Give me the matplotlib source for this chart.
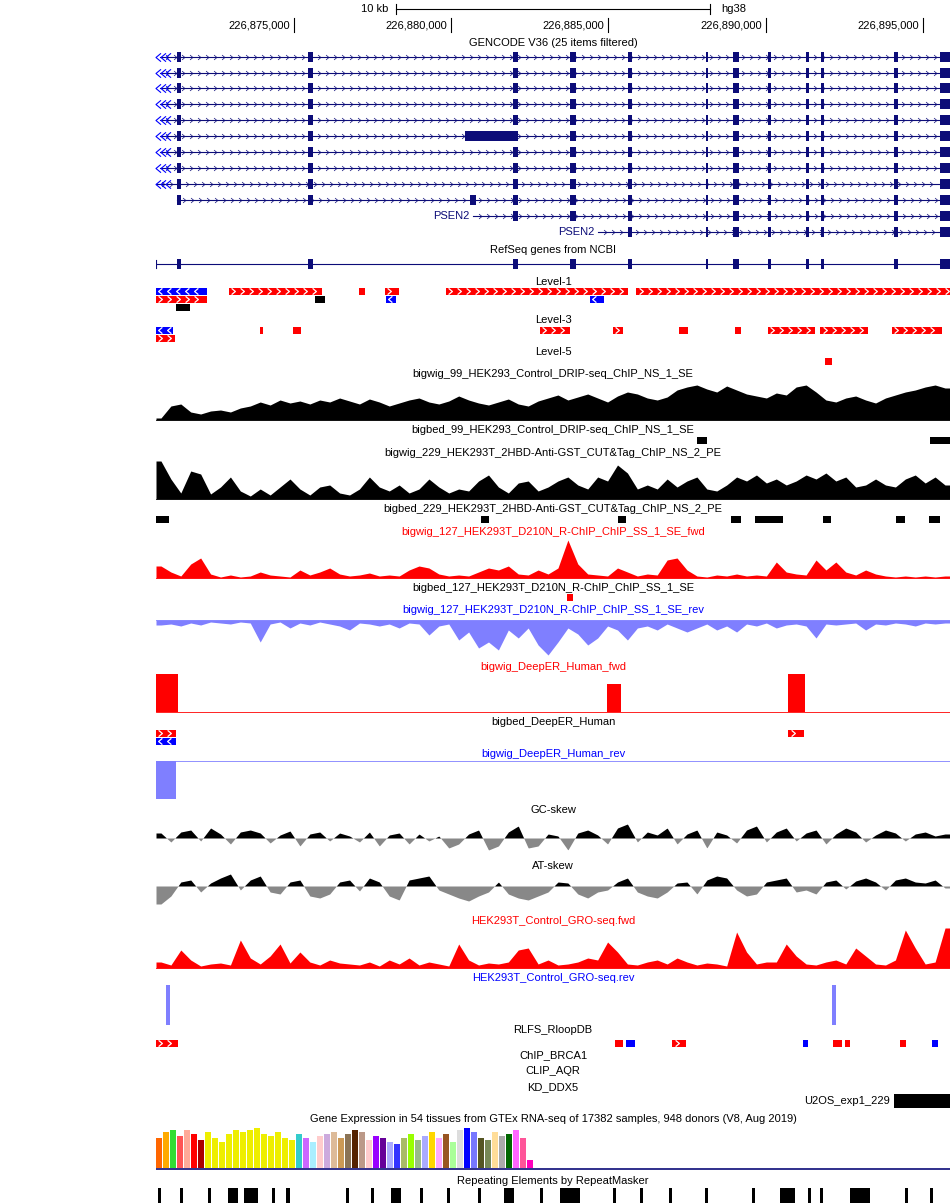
import numpy as np
import matplotlib
matplotlib.use("Agg")
import matplotlib.pyplot as plt
from matplotlib.path import Path

plt.rcParams['font.family'] = ['Liberation Sans', 'DejaVu Sans']

# window, kb offsets from START
START = 226_870_612
END_KB = 25.25
ticks_bp = [226875000, 226880000, 226885000, 226890000, 226895000]

NAVY = '#0c0c78'
RED = '#ff0000'
BLUE = '#0000ff'
LBLUE = '#7f7fff'

# gene model exons (kb start, kb width)
exons = [(0.67, 0.13), (4.83, 0.16), (11.35, 0.16), (13.17, 0.2), (15.01, 0.13),
         (17.49, 0.08), (18.35, 0.2), (19.46, 0.1), (20.67, 0.1), (21.15, 0.1),
         (23.47, 0.13), (24.93, 0.32)]
# transcript rows: (y, start kb, label)
tx_rows = [(57, 0.13, None), (73, 0.13, None), (88, 0.13, None), (104, 0.13, None),
           (120, 0.13, None), (136, 0.13, None), (152, 0.13, None), (168, 0.13, None),
           (184, 0.0, None), (200, 0.67, None), (216, 10.08, 'PSEN2'), (232, 14.06, 'PSEN2')]

level1 = [(291, 0.0, 1.62, BLUE, -1), (291, 2.32, 5.28, RED, 1), (291, 6.46, 6.65, RED, 0),
          (291, 7.28, 7.73, RED, 1), (291, 9.22, 15.01, RED, 1), (291, 15.27, 25.25, RED, 1),
          (299, 0.0, 1.62, RED, 1), (299, 5.06, 5.37, 'black', 0), (299, 7.31, 7.63, BLUE, -1),
          (299, 13.80, 14.25, BLUE, -1), (307, 0.64, 1.08, 'black', 0)]
level3 = [(330, 0.0, 0.54, BLUE, -1), (330, 3.31, 3.40, RED, 0), (330, 4.36, 4.61, RED, 1),
          (330, 12.21, 13.17, RED, 1), (330, 14.53, 14.85, RED, 1), (330, 16.63, 16.92, RED, 1),
          (330, 18.41, 18.60, RED, 1), (330, 19.46, 20.96, RED, 1), (330, 21.12, 22.64, RED, 1),
          (330, 23.40, 24.99, RED, 1), (338, 0.0, 0.60, RED, 1)]
level5 = [(361, 21.27, 21.50, RED, 0)]
bigbed99 = [(440, 17.20, 17.52, 'black', 0), (440, 24.61, 25.25, 'black', 0)]
bigbed229 = [(519, 0.0, 0.41, 'black', 0), (519, 10.34, 10.59, 'black', 0),
             (519, 14.69, 14.95, 'black', 0), (519, 18.29, 18.60, 'black', 0),
             (519, 19.05, 19.94, 'black', 0), (519, 21.21, 21.47, 'black', 0),
             (519, 23.53, 23.82, 'black', 0), (519, 24.58, 24.93, 'black', 0)]
bigbed127 = [(597, 13.07, 13.26, RED, 0)]
bigbedDeepER = [(733, 0.0, 0.64, RED, 1), (733, 20.10, 20.61, RED, 1), (741, 0.0, 0.64, BLUE, -1)]
rlfs = [(1043, 0.0, 0.70, RED, 1), (1043, 14.60, 14.85, RED, 0), (1043, 14.95, 15.23, BLUE, -1),
        (1043, 16.41, 16.85, RED, 1), (1043, 20.57, 20.73, BLUE, -1), (1043, 21.53, 21.82, RED, 1),
        (1043, 21.91, 22.07, RED, 0), (1043, 23.66, 23.85, RED, 0), (1043, 24.68, 24.87, BLUE, -1)]
u2os = [(1101, 23.47, 25.25, 'black', 0)]

# signal tracks, 80 bins across the window (pixel heights)
sig99 = [2, 14, 16, 8, 6, 9, 10, 8, 12, 14, 18, 15, 20, 17, 19, 16, 20, 18, 22, 19, 16, 21, 18, 14, 17, 20,
         22, 18, 16, 19, 24, 20, 17, 15, 18, 21, 16, 14, 19, 22, 25, 20, 23, 26, 22, 18, 24, 28, 26, 22, 20,
         23, 30, 33, 35, 31, 28, 34, 30, 26, 24, 22, 27, 25, 33, 35, 28, 20, 18, 22, 24, 20, 17, 22, 25, 28,
         30, 33, 35, 32]
sig229 = [38, 20, 6, 28, 25, 5, 12, 22, 8, 3, 10, 4, 12, 20, 10, 4, 12, 14, 6, 4, 10, 22, 12, 8, 14, 6,
          10, 20, 12, 6, 10, 8, 18, 24, 12, 6, 16, 18, 8, 12, 18, 22, 14, 10, 22, 18, 34, 26, 10, 14, 10, 20,
          12, 18, 22, 10, 8, 14, 22, 18, 24, 16, 20, 14, 18, 24, 20, 26, 18, 22, 12, 14, 20, 14, 12, 20, 24,
          16, 22, 14]
sig127f = [12, 6, 2, 14, 20, 4, 1, 3, 1, 2, 6, 3, 2, 1, 8, 3, 6, 10, 4, 2, 3, 5, 2, 3, 2, 8, 12, 10, 4, 2,
           3, 2, 6, 10, 8, 12, 4, 3, 8, 4, 10, 38, 14, 4, 3, 2, 10, 6, 2, 4, 3, 18, 20, 8, 2, 1, 3, 2, 4, 2,
           3, 2, 16, 6, 4, 3, 18, 8, 16, 6, 3, 8, 4, 2, 1, 2, 1, 2, 1, 2]
sig127r = [5, 4, 6, 3, 5, 2, 3, 4, 2, 3, 22, 4, 2, 8, 3, 5, 2, 4, 6, 10, 3, 4, 6, 4, 8, 3, 4, 15, 6, 4, 20,
           12, 28, 22, 30, 10, 18, 8, 25, 35, 22, 8, 14, 25, 18, 6, 10, 20, 8, 6, 10, 4, 8, 12, 8, 4, 10, 6,
           12, 4, 6, 3, 8, 5, 4, 6, 18, 4, 5, 4, 3, 10, 4, 5, 3, 4, 6, 3, 4, 3]
deeper_f = [(0.0, 0.70, 38), (14.34, 14.79, 28), (20.10, 20.64, 38)]
deeper_r = [(0.0, 0.64, 38)]
gc_skew = [5, -4, 6, 8, -3, 10, 4, -6, 6, 8, 5, -5, 3, 7, -8, 4, 6, -3, 5, 2, -4, 6, -8, 3, 5, -6, 4, -3, 2,
           -10, -6, 4, 8, -12, -8, 6, 12, -10, -8, 4, 2, -12, 5, 8, 3, -6, 10, 14, -4, 6, 3, 10, -6, 4, 8,
           -10, 6, 3, -5, 8, 12, -4, 6, 10, -3, 5, 8, -6, 4, 10, 6, -4, 3, 8, 5, -3, 4, 6, 2, 4]
at_skew = [-18, -10, 4, 6, -6, 3, 8, 12, -4, 6, 10, -6, -8, 4, 6, -10, -12, -8, 4, 6, -5, 8, 4, -10, -14,
           6, 8, 10, -4, -8, -12, -15, -10, -6, 4, -8, -12, -14, -10, -6, 4, 3, -8, -12, -6, -4, 4, 8, -6,
           -10, -12, -6, 3, 4, -8, 6, 10, 8, -4, -10, -8, 4, 6, 8, -6, -4, -8, 4, 6, -3, 5, 8, 4, -4, 6, 8,
           4, 3, 6, -2]
gro_f = [6, 3, 18, 8, 2, 4, 5, 3, 28, 10, 4, 12, 24, 5, 16, 6, 3, 8, 5, 4, 3, 6, 2, 8, 4, 10, 3, 6, 4, 2,
         24, 8, 3, 5, 4, 6, 18, 20, 4, 8, 3, 4, 6, 10, 8, 26, 16, 4, 3, 6, 8, 4, 10, 6, 3, 5, 4, 2, 36, 16,
         4, 6, 6, 24, 12, 4, 3, 6, 8, 4, 20, 12, 4, 3, 8, 38, 20, 4, 6, 40]
gro_r = [(0.38, 40), (21.56, 40)]

gtex_h = [30, 36, 38, 32, 38, 34, 28, 36, 30, 26, 34, 38, 36, 38, 40, 34, 32, 36, 30, 28, 34, 30, 26, 32,
          34, 36, 30, 34, 38, 36, 28, 32, 30, 26, 24, 30, 34, 28, 32, 36, 30, 34, 26, 38, 40, 36, 30, 28,
          36, 32, 34, 38, 30, 8]
gtex_c = ['#FF6600', '#FFAA00', '#33DD33', '#FF5555', '#FFAA99', '#FF0000', '#AA0000', '#EEEE00',
          '#EEEE00', '#EEEE00', '#EEEE00', '#EEEE00', '#EEEE00', '#EEEE00', '#EEEE00', '#EEEE00',
          '#EEEE00', '#EEEE00', '#EEEE00', '#EEEE00', '#33CCCC', '#CC66FF', '#AAEEFF', '#FFCCCC',
          '#CCAADD', '#DDBB99', '#CC9955', '#8B7355', '#552200', '#BB9988', '#FFCCCC', '#9900FF',
          '#660099', '#AAAAFF', '#3333FF', '#AABB66', '#99FF00', '#99BB88', '#AAAAFF', '#FFD700',
          '#FFAAFF', '#995522', '#AAFF99', '#DDDDDD', '#0000FF', '#7777FF', '#555522', '#778855',
          '#FFDD99', '#AAAAAA', '#006600', '#FF66FF', '#FF5599', '#FF00BB']

repeats = [(0.06, 0.1), (0.76, 0.1), (1.65, 0.1), (2.29, 0.32), (2.80, 0.45), (3.69, 0.1),
           (4.13, 0.12), (6.04, 0.1), (6.84, 0.1), (7.47, 0.32), (8.40, 0.1), (9.25, 0.1), (10.24, 0.1),
           (11.06, 0.32), (12.21, 0.1), (12.84, 0.64), (13.07, 0.41), (14.53, 0.1), (15.39, 0.1),
           (16.31, 0.1), (17.46, 0.1), (18.95, 0.1), (19.84, 0.48), (20.73, 0.1), (21.12, 0.1),
           (22.07, 0.64), (23.82, 0.1), (24.61, 0.1)]

tracks = [(43, 'GENCODE V36 (25 items filtered)', 'black'), (250, 'RefSeq genes from NCBI', 'black'),
          (282, 'Level-1', 'black'), (320, 'Level-3', 'black'), (352, 'Level-5', 'black'),
          (374, 'bigwig_99_HEK293_Control_DRIP-seq_ChIP_NS_1_SE', 'black'),
          (430, 'bigbed_99_HEK293_Control_DRIP-seq_ChIP_NS_1_SE', 'black'),
          (453, 'bigwig_229_HEK293T_2HBD-Anti-GST_CUT&Tag_ChIP_NS_2_PE', 'black'),
          (509, 'bigbed_229_HEK293T_2HBD-Anti-GST_CUT&Tag_ChIP_NS_2_PE', 'black'),
          (532, 'bigwig_127_HEK293T_D210N_R-ChIP_ChIP_SS_1_SE_fwd', RED),
          (588, 'bigbed_127_HEK293T_D210N_R-ChIP_ChIP_SS_1_SE', 'black'),
          (610, 'bigwig_127_HEK293T_D210N_R-ChIP_ChIP_SS_1_SE_rev', BLUE),
          (667, 'bigwig_DeepER_Human_fwd', RED), (722, 'bigbed_DeepER_Human', 'black'),
          (754, 'bigwig_DeepER_Human_rev', BLUE), (810, 'GC-skew', 'black'), (866, 'AT-skew', 'black'),
          (921, 'HEK293T_Control_GRO-seq.fwd', RED), (978, 'HEK293T_Control_GRO-seq.rev', BLUE),
          (1030, 'RLFS_RloopDB', 'black'), (1055, 'ChIP_BRCA1', 'black'), (1071, 'CLIP_AQR', 'black'),
          (1087, 'KD_DDX5', 'black'),
          (1119, 'Gene Expression in 54 tissues from GTEx RNA-seq of 17382 samples, 948 donors (V8, Aug 2019)', 'black'),
          (1181, 'Repeating Elements by RepeatMasker', 'black')]

KB_PX = 0.0318  # kb per pixel
CHEV_R = Path([(-0.6, 1), (0.6, 0), (-0.6, -1)], [Path.MOVETO, Path.LINETO, Path.LINETO])
CHEV_L = Path([(0.6, 1), (-0.6, 0), (0.6, -1)], [Path.MOVETO, Path.LINETO, Path.LINETO])

fig = plt.figure(figsize=(9.5, 12.03), dpi=100)
ax = fig.add_axes([156 / 950, 0, 794 / 950, 1])
ax.set_xlim(0, END_KB)
ax.set_ylim(1203, 0)
ax.axis('off')


def chevrons(x0, x1, y, d, color, step=8, size=5, lw=0.8):
    xs = np.arange(x0 + step * KB_PX / 2, x1 - step * KB_PX / 3, step * KB_PX)
    if len(xs) == 0:
        return
    ax.plot(xs, np.full(len(xs), y), ls='', marker=CHEV_R if d > 0 else CHEV_L,
            ms=size, mfc='none', mec=color, mew=lw, clip_on=False)


def blocks(items, h=7):
    for y, s, e, c, d in items:
        ax.add_patch(plt.Rectangle((s, y - h / 2), e - s, h, color=c, lw=0))
        if d != 0 and e - s > 0.3:
            chevrons(s, e, y, d, 'white', step=9, size=4.5, lw=0.9)


# ruler
ax.plot([7.63, 17.63], [9, 9], color='black', lw=0.8)
ax.plot([7.63, 7.63], [4, 14], color='black', lw=0.8)
ax.plot([17.63, 17.63], [4, 14], color='black', lw=0.8)
ax.text(7.4, 9, '10 kb', ha='right', va='center', fontsize=8)
ax.text(17.98, 9, 'hg38', ha='left', va='center', fontsize=8)
for t in ticks_bp:
    x = (t - START) / 1000
    ax.plot([x, x], [18, 32], color='black', lw=0.8)
    ax.text(x - 0.12, 25, f'{t:,}', ha='right', va='center', fontsize=8)

for y, name, c in tracks:
    ax.text(END_KB / 2, y, name, ha='center', va='center', fontsize=8, color=c)

# GENCODE transcripts
for y, s, label in tx_rows:
    ax.plot([s, 24.93], [y, y], color=NAVY, lw=0.8)
    chevrons(s + 0.1, 24.9, y, 1, NAVY, step=8, size=3.5, lw=0.5)
    for es, ew in exons:
        if es + ew > s + 0.05:
            ax.add_patch(plt.Rectangle((max(es, s), y - 5), ew, 10, color=NAVY, lw=0))
    if s < 0.2:
        chevrons(0.0, 0.55, y, -1, BLUE, step=5, size=6, lw=0.8)
    if label:
        ax.text(s - 0.1, y, label, ha='right', va='center', fontsize=8, color=NAVY)
ax.add_patch(plt.Rectangle((9.83, 136 - 5), 1.52, 10, color=NAVY, lw=0))
ax.add_patch(plt.Rectangle((9.99, 200 - 5), 0.2, 10, color=NAVY, lw=0))

# RefSeq
ax.plot([0.0, 25.25], [264, 264], color=NAVY, lw=0.8)
ax.plot([0.0, 0.0], [260, 268], color=NAVY, lw=0.8)
for es, ew in exons:
    ax.add_patch(plt.Rectangle((es, 259), ew, 10, color=NAVY, lw=0))

for group in (level1, level3, level5, bigbed99, bigbed229, bigbed127, bigbedDeepER, rlfs, u2os):
    blocks(group, h=14 if group is u2os else 7)

centers = (np.arange(80) + 0.5) * END_KB / 80
xs = np.concatenate([[0], centers, [END_KB]])


def ext(vals):
    v = np.array(vals, float)
    return np.concatenate([[v[0]], v, [v[-1]]])


def signal(vals, base, color, down=False):
    v = ext(vals)
    top = base + v if down else base - v
    ax.fill_between(xs, base, top, color=color, lw=0)
    ax.plot([0, END_KB], [base, base], color=color, lw=0.6)


def skew(vals, center):
    v = ext(vals)
    fine = np.linspace(0, END_KB, 1600)
    vf = np.interp(fine, xs, v)
    ax.fill_between(fine, center, center - np.maximum(vf, 0), color='black', lw=0)
    ax.fill_between(fine, center, center - np.minimum(vf, 0), color='#888888', lw=0)


signal(sig99, 420, 'black')
signal(sig229, 499, 'black')
signal(sig127f, 578, RED)
signal(sig127r, 620, LBLUE, down=True)
ax.plot([0, END_KB], [712, 712], color=RED, lw=0.6)
for s, e, h in deeper_f:
    ax.add_patch(plt.Rectangle((s, 712 - h), e - s, h, color=RED, lw=0))
ax.plot([0, END_KB], [761, 761], color=LBLUE, lw=0.6)
for s, e, h in deeper_r:
    ax.add_patch(plt.Rectangle((s, 761), e - s, h, color=LBLUE, lw=0))
skew(gc_skew, 838)
skew(at_skew, 886)
signal(gro_f, 968, RED)
for x, h in gro_r:
    ax.add_patch(plt.Rectangle((x - 0.05, 985), 0.1, h, color=LBLUE, lw=0))

ax.text(23.35, 1101, 'U2OS_exp1_229', ha='right', va='center', fontsize=8)

# GTEx
bw = 7 * KB_PX
for i, (h, c) in enumerate(zip(gtex_h, gtex_c)):
    ax.add_patch(plt.Rectangle((i * bw, 1168 - h), bw * 0.85, h, color=c, lw=0))
ax.plot([0, END_KB], [1169, 1169], color=NAVY, lw=1.2)

for s, w in repeats:
    ax.add_patch(plt.Rectangle((s, 1188), w, 15, color='black', lw=0))

fig.savefig('out.png', dpi=100)
